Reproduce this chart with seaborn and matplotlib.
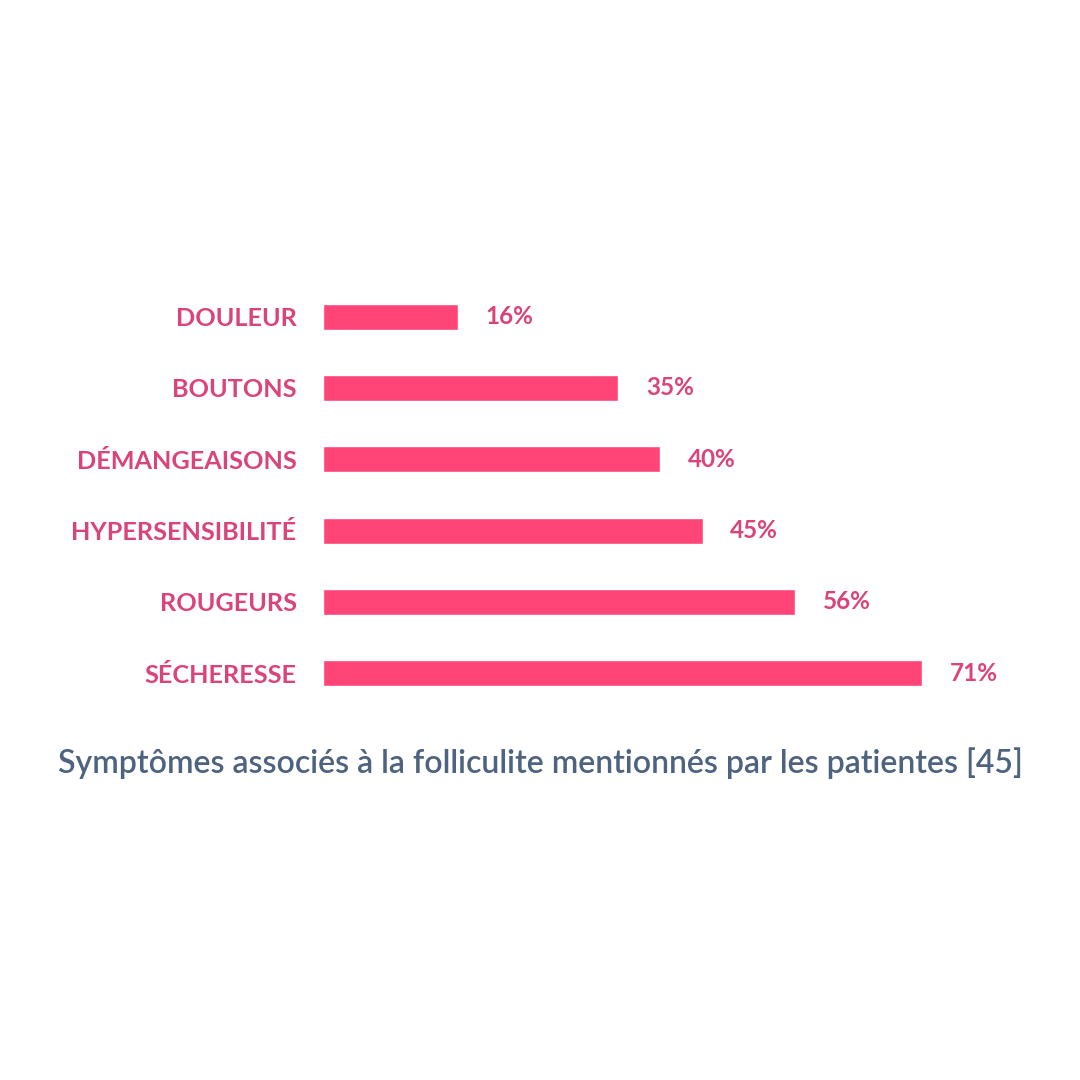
import seaborn as sns
import matplotlib.pyplot as plt
import pandas as pd

symptoms = ["DOULEUR", "BOUTONS", "DÉMANGEAISONS", "HYPERSENSIBILITÉ", "ROUGEURS", "SÉCHERESSE"]
percent = [16, 35, 40, 45, 56, 71]
title = "Symptômes associés à la folliculite mentionnés par les patientes [45]"

bar_color = "#ff4477"
label_color = "#d9457a"
title_color = "#4d6380"

df = pd.DataFrame({"symptome": symptoms, "pct": percent})

sns.set_style("white")
plt.rcParams["font.family"] = ["Lato", "DejaVu Sans"]

fig = plt.figure(figsize=(10.8, 10.8), dpi=100)
ax = fig.add_axes([323 / 1080, 1 - 709 / 1080, 717 / 1080, 428 / 1080])

sns.barplot(data=df, x="pct", y="symptome", orient="h", color=bar_color,
            saturation=1, width=0.365, ax=ax)
ax.set_xlim(0, 85)

for c in ax.containers:
    ax.bar_label(c, labels=[f"{v}%" for v in percent], padding=20,
                 color=label_color, fontsize=17.5, fontweight="bold")

ax.set_xlabel("")
ax.set_ylabel("")
ax.set_xticks([])
ax.tick_params(axis="y", length=0, pad=19)
for t in ax.get_yticklabels():
    t.set_color(label_color)
    t.set_fontsize(18.2)
    t.set_fontweight("bold")
sns.despine(ax=ax, left=True, bottom=True)

fig.text(0.5, 1 - 763 / 1080, title, ha="center", va="center",
         color=title_color, fontsize=23, fontweight="semibold")

fig.savefig("out.png", dpi=100, facecolor="white")
